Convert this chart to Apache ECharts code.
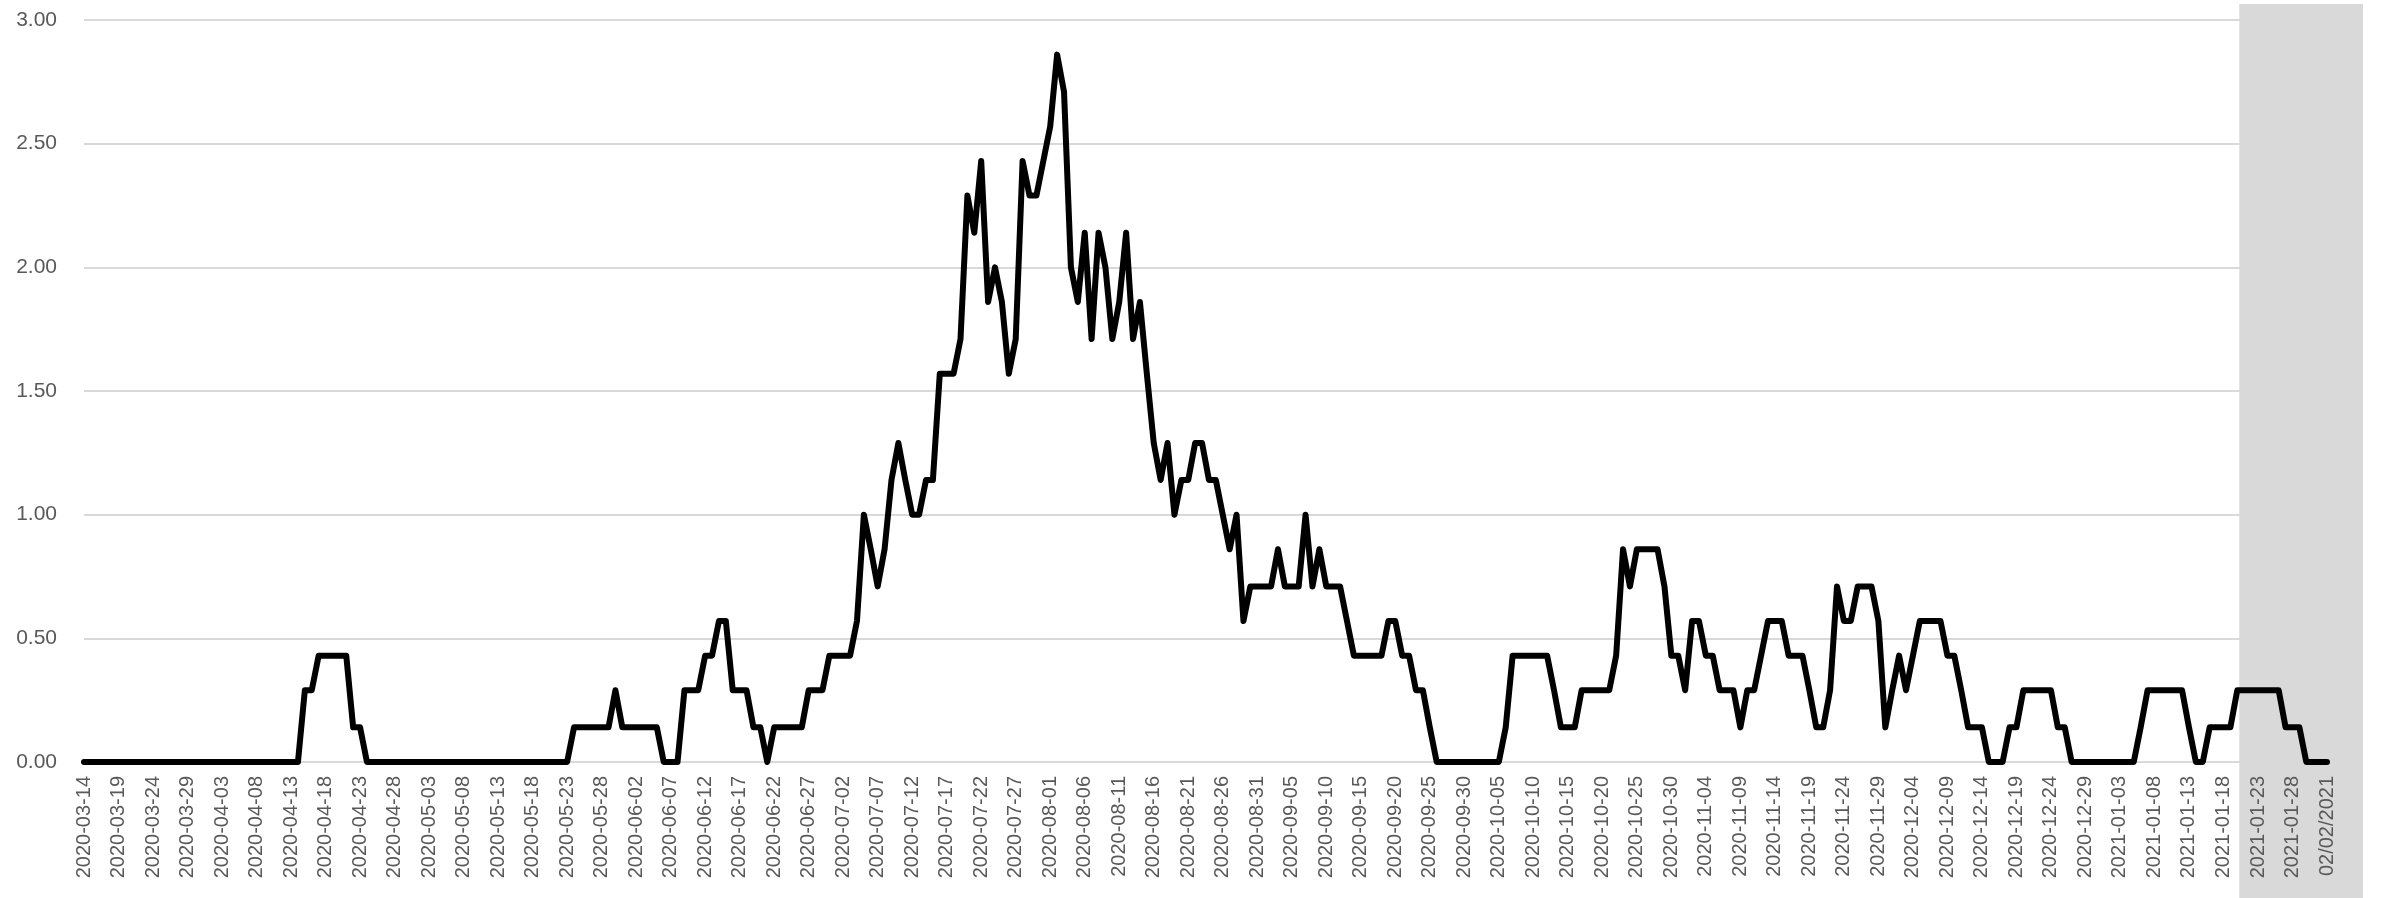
<!DOCTYPE html>
<html><head><meta charset="utf-8">
<script src="https://cdn.jsdelivr.net/npm/echarts@6/dist/echarts.min.js"></script>
<style>html,body{margin:0;padding:0;background:#fff}#c{width:2382px;height:898px}</style>
</head><body><div id="c"></div>
<script>
// ---- data ----
const startDate = '2020-03-14';
const lastLabel = '02/02/2021';
const shadeStartDate = '2021-01-20';
const values = [
  0,0,0,0,0,0,0,0,0,0,
  0,0,0,0,0,0,0,0,0,0,
  0,0,0,0,0,0,0,0,0,0,
  0,0,0.29,0.29,0.43,0.43,0.43,0.43,0.43,0.14,
  0.14,0,0,0,0,0,0,0,0,0,
  0,0,0,0,0,0,0,0,0,0,
  0,0,0,0,0,0,0,0,0,0,
  0,0.14,0.14,0.14,0.14,0.14,0.14,0.29,0.14,0.14,
  0.14,0.14,0.14,0.14,0,0,0,0.29,0.29,0.29,
  0.43,0.43,0.57,0.57,0.29,0.29,0.29,0.14,0.14,0,
  0.14,0.14,0.14,0.14,0.14,0.29,0.29,0.29,0.43,0.43,
  0.43,0.43,0.57,1.00,0.86,0.71,0.86,1.14,1.29,1.14,
  1.00,1.00,1.14,1.14,1.57,1.57,1.57,1.71,2.29,2.14,
  2.43,1.86,2.00,1.86,1.57,1.71,2.43,2.29,2.29,2.43,
  2.57,2.86,2.71,2.00,1.86,2.14,1.71,2.14,2.00,1.71,
  1.86,2.14,1.71,1.86,1.57,1.29,1.14,1.29,1.00,1.14,
  1.14,1.29,1.29,1.14,1.14,1.00,0.86,1.00,0.57,0.71,
  0.71,0.71,0.71,0.86,0.71,0.71,0.71,1.00,0.71,0.86,
  0.71,0.71,0.71,0.57,0.43,0.43,0.43,0.43,0.43,0.57,
  0.57,0.43,0.43,0.29,0.29,0.14,0,0,0,0,
  0,0,0,0,0,0,0.14,0.43,0.43,0.43,
  0.43,0.43,0.43,0.29,0.14,0.14,0.14,0.29,0.29,0.29,
  0.29,0.29,0.43,0.86,0.71,0.86,0.86,0.86,0.86,0.71,
  0.43,0.43,0.29,0.57,0.57,0.43,0.43,0.29,0.29,0.29,
  0.14,0.29,0.29,0.43,0.57,0.57,0.57,0.43,0.43,0.43,
  0.29,0.14,0.14,0.29,0.71,0.57,0.57,0.71,0.71,0.71,
  0.57,0.14,0.29,0.43,0.29,0.43,0.57,0.57,0.57,0.57,
  0.43,0.43,0.29,0.14,0.14,0.14,0,0,0,0.14,
  0.14,0.29,0.29,0.29,0.29,0.29,0.14,0.14,0,0,
  0,0,0,0,0,0,0,0,0.14,0.29,
  0.29,0.29,0.29,0.29,0.29,0.14,0,0,0.14,0.14,
  0.14,0.14,0.29,0.29,0.29,0.29,0.29,0.29,0.29,0.14,
  0.14,0.14,0,0,0,0
];
const yTicks = { min: 0, max: 3, step: 0.5 };

function buildDates(start, n) {
  const out = [];
  const d = new Date(start + 'T00:00:00Z');
  for (let i = 0; i < n; i++) {
    out.push(d.toISOString().slice(0, 10));
    d.setUTCDate(d.getUTCDate() + 1);
  }
  return out;
}
const categories = buildDates(startDate, values.length);
categories[categories.length - 1] = lastLabel;

// ---- chart ----
const chart = echarts.init(document.getElementById('c'), null, { renderer: 'canvas' });
const labelFont = 'Liberation Sans, Arial, sans-serif';
chart.setOption({
  animation: false,
  backgroundColor: '#ffffff',
  grid: { left: 84, right: 55, top: 20, bottom: 136, containLabel: false },
  xAxis: {
    type: 'category', data: categories, boundaryGap: false, z: 3,
    axisLine: { show: false }, axisTick: { show: false },
    axisLabel: { interval: 4, rotate: 90, color: '#595959', fontSize: 20, fontFamily: labelFont, margin: 14 },
    splitLine: { show: false }
  },
  yAxis: {
    type: 'value', min: yTicks.min, max: yTicks.max, interval: yTicks.step, z: 0,
    axisLine: { show: false }, axisTick: { show: false },
    axisLabel: { formatter: v => v.toFixed(2), color: '#595959', fontSize: 21, fontFamily: labelFont, margin: 27 },
    splitLine: { lineStyle: { color: '#d9d9d9', width: 2 } }
  },
  series: [{
    type: 'line', data: values, symbol: 'none', z: 2,
    lineStyle: { color: '#000000', width: 6, join: 'round', cap: 'round' }
  }]
});

const shadeIdx = categories.indexOf(shadeStartDate);
const xStart = chart.convertToPixel({ xAxisIndex: 0 }, shadeIdx) + 2;
const xEnd = chart.convertToPixel({ xAxisIndex: 0 }, categories.length - 1) + 36;
chart.setOption({
  graphic: [{
    type: 'rect', z: 1, zlevel: 0, silent: true,
    shape: { x: xStart, y: 4, width: xEnd - xStart, height: 898 - 4 },
    style: { fill: '#d9d9d9' }
  }]
});
</script></body></html>
